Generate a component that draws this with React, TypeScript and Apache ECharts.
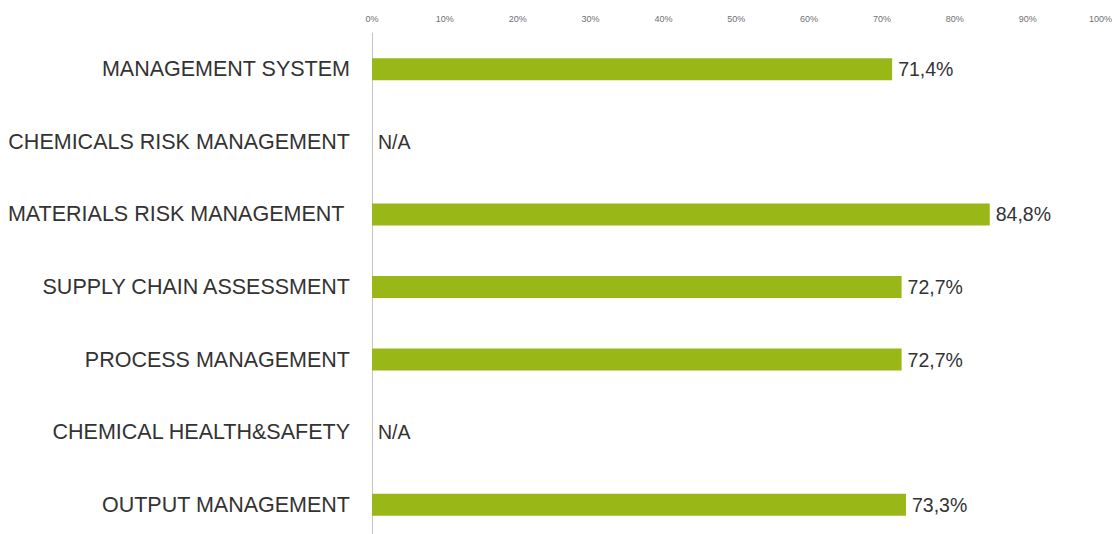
import React, { useEffect, useRef } from "react";
import * as echarts from "echarts";

const categories = [
  "MANAGEMENT SYSTEM",
  "CHEMICALS RISK MANAGEMENT",
  "MATERIALS RISK MANAGEMENT ",
  "SUPPLY CHAIN ASSESSMENT",
  "PROCESS MANAGEMENT",
  "CHEMICAL HEALTH&SAFETY",
  "OUTPUT MANAGEMENT",
];
const values: (number | null)[] = [71.4, null, 84.8, 72.7, 72.7, null, 73.3];
const tickValues = [0, 10, 20, 30, 40, 50, 60, 70, 80, 90, 100];

export default function App() {
  const ref = useRef<HTMLDivElement>(null);
  useEffect(() => {
    if (!ref.current) return;
    const chart = echarts.init(ref.current, undefined, { renderer: "svg" });
    const font = "'Liberation Sans', Arial, sans-serif";
    chart.setOption({
      animation: false,
      grid: { left: 372, right: 13, top: 33, bottom: 0 },
      xAxis: {
        type: "value",
        position: "top",
        min: tickValues[0],
        max: tickValues[tickValues.length - 1],
        interval: 10,
        axisLine: { show: false },
        axisTick: { show: false },
        splitLine: { show: false },
        axisLabel: {
          margin: 10,
          fontSize: 9,
          color: "#6f6f6f",
          fontFamily: font,
          formatter: (v: number) => `${v}%`,
        },
      },
      yAxis: {
        type: "category",
        inverse: true,
        data: categories,
        axisLine: { show: true, lineStyle: { color: "#c4c4c4", width: 1 } },
        axisTick: { show: false },
        axisLabel: {
          margin: 22,
          fontSize: 21.5,
          color: "#333333",
          fontFamily: font,
        },
      },
      series: [
        {
          type: "bar",
          barWidth: 22,
          data: values.map((v) => (v == null ? 0 : v)),
          itemStyle: { color: "#99b818" },
          label: {
            show: true,
            position: "right",
            distance: 6,
            fontSize: 19.5,
            color: "#333333",
            fontFamily: font,
            formatter: (p: any) =>
              values[p.dataIndex] == null
                ? "N/A"
                : `${(values[p.dataIndex] as number).toFixed(1).replace(".", ",")}%`,
          },
        },
      ],
    });
    return () => chart.dispose();
  }, []);
  return (
    <div
      ref={ref}
      style={{ position: "fixed", left: 0, top: 0, width: 1115, height: 541, background: "#fff" }}
    />
  );
}
